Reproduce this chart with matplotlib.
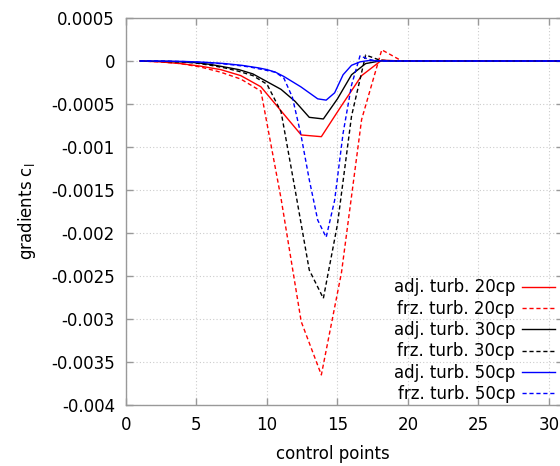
import numpy as np
import matplotlib
matplotlib.use("Agg")
import matplotlib.pyplot as plt

# control point positions for each parametrisation
x20 = np.linspace(1, 31, 22)
x30 = np.linspace(1, 31, 31)
x50 = np.linspace(1, 31, 51)

adj20 = [0, -0.00001, -0.00003, -0.00006, -0.0001, -0.00017, -0.0003, -0.00058,
         -0.00086, -0.00088, -0.00052, -0.00017, 0.00001, 0, 0, 0, 0, 0, 0, 0, 0, 0]
frz20 = [0, -0.00001, -0.00003, -0.00007, -0.00013, -0.00021, -0.00035, -0.0016,
         -0.00303, -0.00365, -0.00246, -0.00068, 0.00013, 0, 0, 0, 0, 0, 0, 0, 0, 0]

adj30 = [0, -0.000003, -0.000005, -0.00001, -0.00002, -0.00004, -0.00007, -0.0001,
         -0.00015, -0.00024, -0.00033, -0.00047, -0.000655, -0.000674, -0.00044,
         -0.00016, -0.00003, 0, 0, 0, 0, 0, 0, 0, 0, 0, 0, 0, 0, 0, 0]
frz30 = [0, -0.000003, -0.000006, -0.000012, -0.000025, -0.00005, -0.00008, -0.00012,
         -0.00017, -0.00027, -0.00059, -0.0015, -0.00243, -0.00276, -0.0019,
         -0.00064, 0.00007, 0.00001, 0, 0, 0, 0, 0, 0, 0, 0, 0, 0, 0, 0, 0]

adj50 = [0, 0, 0, -0.000002, -0.000003, -0.000005, -0.000008, -0.000012, -0.000017,
         -0.000023, -0.00003, -0.00004, -0.00005, -0.000065, -0.00008, -0.0001,
         -0.00013, -0.00018, -0.00024, -0.0003, -0.00037, -0.00044, -0.000455,
         -0.00037, -0.00016, -0.00005, -0.00001, 0.000005, 0.000003,
         0, 0, 0, 0, 0, 0, 0, 0, 0, 0, 0, 0, 0, 0, 0, 0, 0, 0, 0, 0, 0, 0]
frz50 = [0, 0, 0, -0.000002, -0.000004, -0.000006, -0.00001, -0.000014, -0.00002,
         -0.000027, -0.000035, -0.000045, -0.000057, -0.00007, -0.00009, -0.00011,
         -0.00013, -0.0002, -0.00042, -0.00085, -0.00138, -0.00185, -0.00205,
         -0.00162, -0.00084, -0.00028, 0.00006, 0.00002, 0,
         0, 0, 0, 0, 0, 0, 0, 0, 0, 0, 0, 0, 0, 0, 0, 0, 0, 0, 0, 0, 0, 0]

xticks = [0, 5, 10, 15, 20, 25, 30]
yticks = [0.0005, 0, -0.0005, -0.001, -0.0015, -0.002, -0.0025, -0.003, -0.0035, -0.004]
ytick_labels = ["0.0005", "0", "-0.0005", "-0.001", "-0.0015", "-0.002",
                "-0.0025", "-0.003", "-0.0035", "-0.004"]

plt.rcParams['font.family'] = ['DejaVu Sans']
plt.rcParams['font.size'] = 12

fig = plt.figure(figsize=(5.6, 4.66), dpi=100)
ax = fig.add_axes([126/560, 61/466, 437/560, 387/466])

dash = (0, (3, 2))
ax.plot(x20, adj20, color='#ff0000', lw=1, label='adj. turb. 20cp')
ax.plot(x20, frz20, color='#ff0000', lw=1, ls=dash, label='frz. turb. 20cp')
ax.plot(x30, adj30, color='#000000', lw=1, label='adj. turb. 30cp')
ax.plot(x30, frz30, color='#000000', lw=1, ls=dash, label='frz. turb. 30cp')
ax.plot(x50, adj50, color='#0000ff', lw=1, label='adj. turb. 50cp')
ax.plot(x50, frz50, color='#0000ff', lw=1, ls=dash, label='frz. turb. 50cp')

ax.set_xlim(0, 31)
ax.set_ylim(-0.004, 0.0005)
ax.set_xticks(xticks)
ax.set_xticklabels([str(t) for t in xticks])
ax.set_yticks(yticks)
ax.set_yticklabels(ytick_labels)

ax.grid(True, color='#cccccc', lw=0.8, ls=(0, (1, 2)))
ax.set_axisbelow(True)
for s in ax.spines.values():
    s.set_color('#999999')
    s.set_linewidth(1)
ax.tick_params(direction='in', length=5, width=1, color='#999999',
               top=True, right=True, labelsize=12, pad=8)

ax.set_xlabel('control points', fontsize=12)
ax.set_ylabel(r'gradients c$_\mathregular{l}$', fontsize=12)
ax.xaxis.set_label_coords((333-126)/437, -(454-405)/387)
ax.yaxis.set_label_coords((27-126)/437, 0.5)
ax.xaxis.label.set_va('center')
ax.yaxis.label.set_va('center')

leg = ax.legend(loc='lower right', bbox_to_anchor=((555-126)/437, 0.005),
                frameon=False, markerfirst=False, handlelength=2.0,
                handletextpad=0.4, labelspacing=0.2, borderpad=0,
                borderaxespad=0, fontsize=12)

fig.savefig('out.png', dpi=100)
